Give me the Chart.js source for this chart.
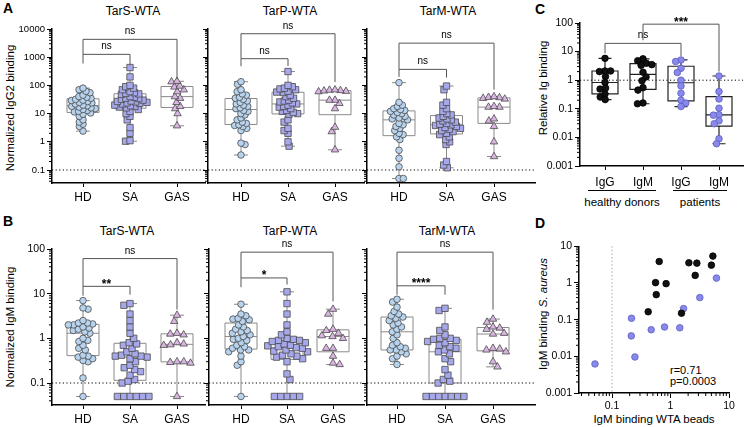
<!DOCTYPE html>
<html>
<head>
<meta charset="utf-8">
<script src="https://cdn.jsdelivr.net/npm/chart.js@4.4.1/dist/chart.umd.min.js"></script>
<style>
  body { margin: 0; width: 746px; height: 427px; position: relative; overflow: hidden; background: #fff;
         font-family: "Liberation Sans", Arial, sans-serif; color: #000; }
  canvas { position: absolute; }
  .lbl { position: absolute; white-space: nowrap; transform: translate(-50%, -50%); font-size: 12px; line-height: 14px; }
  .rot { transform: translate(-50%, -50%) rotate(-90deg); font-size: 11.5px; }
  .letter { font-weight: bold; font-size: 14px; }
  .grp { position: absolute; border-top: 1px solid #000; height: 0; }
</style>
</head>
<body>
<div class="lbl letter" style="left:8px;top:8px">A</div>
<div class="lbl letter" style="left:8px;top:221px">B</div>
<div class="lbl letter" style="left:540px;top:9px">C</div>
<div class="lbl letter" style="left:540px;top:223px">D</div>

<div class="lbl" style="left:133px;top:11px">TarS-WTA</div>
<div class="lbl" style="left:290px;top:11px">TarP-WTA</div>
<div class="lbl" style="left:448px;top:11px">TarM-WTA</div>
<div class="lbl" style="left:127px;top:231px">TarS-WTA</div>
<div class="lbl" style="left:290px;top:231px">TarP-WTA</div>
<div class="lbl" style="left:447px;top:231px">TarM-WTA</div>

<div class="lbl rot" style="left:10px;top:108px">Normalized IgG2 binding</div>
<div class="lbl rot" style="left:10px;top:327px">Normalized IgM binding</div>
<div class="lbl rot" style="left:543px;top:88px">Relative Ig binding</div>
<div class="lbl rot" style="left:543px;top:314px">IgM binding <i>S. aureus</i></div>
<div class="lbl" style="left:654px;top:419px;font-size:11.5px">IgM binding WTA beads</div>

<div class="grp" style="left:588px;top:190px;width:68px"></div>
<div class="grp" style="left:673px;top:190px;width:54px"></div>
<div class="lbl" style="left:622px;top:202px;font-size:11.5px">healthy donors</div>
<div class="lbl" style="left:700px;top:202px;font-size:11.5px">patients</div>
<div style="position:absolute;left:670px;top:365px;font-size:11px;line-height:11px">r=0.71<br>p=0.0003</div>

<script>
Chart.defaults.font.family = '"Liberation Sans", Arial, sans-serif';
Chart.defaults.color = '#000';
Chart.defaults.animation = false;

// ---------- data ----------
const groups = ['HD', 'SA', 'GAS'];
const igLabels = ['IgG', 'IgM', 'IgG', 'IgM'];
const ticksIgG2 = [0.1, 1, 10, 100, 1000, 10000];
const ticksIgM = [0.1, 1, 10, 100];
const ticksRel = [0.001, 0.01, 0.1, 1, 10, 100];
const ticksCorrX = [0.1, 1, 10];
const ticksCorrY = [0.001, 0.01, 0.1, 1, 10];
const detectionLimit = 0.1;

// A: normalized IgG2 binding
const igg2TarS_HD = [2.4, 3.5, 4.2, 5.0, 6.0, 8.0, 9.5, 10.5, 11.5, 12, 13, 14, 15, 16, 17, 18, 19, 20, 22, 24, 25, 27, 29, 30, 32, 35, 38, 40, 45, 55, 62, 70, 80];
const igg2TarS_SA = [1.05, 1.1, 2.0, 3.2, 6, 8, 10, 12, 14, 16, 17, 18, 19, 20, 22, 23, 24, 25, 26, 27, 28, 30, 32, 34, 35, 38, 40, 48, 50, 52, 55, 60, 70, 80, 90, 100, 200, 430];
const igg2TarS_GAS = [3.7, 10, 15, 18, 25, 35, 40, 60, 70, 88, 95, 135, 140];
const igg2TarP_HD = [0.34, 0.8, 0.9, 2.5, 3.0, 3.5, 3.8, 4.0, 4.5, 5.0, 6.0, 7.0, 9.0, 10, 12, 13, 15, 16, 18, 20, 22, 25, 28, 32, 35, 38, 45, 50, 60, 70, 110, 135];
const igg2TarP_SA = [0.7, 1.0, 2.0, 2.5, 3.0, 5.0, 6.0, 9.5, 10, 11, 12, 13, 15, 17, 18, 20, 22, 24, 26, 28, 30, 35, 40, 45, 56, 58, 62, 70, 75, 80, 90, 100, 310];
const igg2TarP_GAS = [0.52, 2.3, 3.3, 15, 23, 30, 30, 60, 62, 64, 66, 68, 70];
const igg2TarM_HD = [0.05, 0.05, 0.13, 0.26, 0.5, 1.2, 1.5, 1.8, 2.0, 2.5, 3.0, 3.5, 4.0, 4.5, 6.0, 6.5, 7.0, 8.0, 9.0, 10, 11, 12, 13, 14, 15, 18, 20, 25, 125];
const igg2TarM_SA = [0.12, 0.15, 0.2, 0.8, 1.0, 1.2, 1.5, 1.8, 2.0, 2.3, 2.5, 2.8, 3.0, 3.2, 3.5, 3.8, 4.0, 4.2, 4.5, 5.0, 5.5, 6.0, 6.5, 7.0, 8.0, 9.0, 10, 12, 15, 20, 25, 70, 95];
const igg2TarM_GAS = [0.3, 1.0, 3.5, 5.5, 6.5, 17, 17, 18, 33, 35, 37, 38, 40];

// B: normalized IgM binding
const igmTarS_HD = [0.05, 0.13, 0.3, 0.32, 0.35, 0.38, 0.4, 0.42, 0.55, 0.6, 0.7, 0.85, 0.9, 1.0, 1.3, 1.4, 1.5, 1.6, 1.7, 1.8, 2.0, 2.0, 2.1, 2.2, 2.2, 2.5, 4.5, 4.8, 7.0];
const igmTarS_SA = [0.05, 0.05, 0.05, 0.05, 0.05, 0.05, 0.1, 0.11, 0.12, 0.15, 0.18, 0.2, 0.22, 0.25, 0.3, 0.35, 0.38, 0.4, 0.4, 0.42, 0.45, 0.5, 0.6, 0.7, 0.75, 0.8, 1.0, 1.3, 1.8, 2.5, 3.5, 5.5, 6.0];
const igmTarS_GAS = [0.05, 0.28, 0.29, 0.3, 0.3, 0.7, 0.72, 0.75, 0.8, 1.2, 1.25, 1.3, 2.4, 3.3];
const igmTarP_HD = [0.05, 0.25, 0.3, 0.4, 0.5, 0.55, 0.55, 0.6, 0.65, 0.7, 0.8, 0.9, 0.95, 1.0, 1.1, 1.2, 1.3, 1.4, 1.5, 1.6, 1.8, 2.0, 2.4, 2.6, 2.7, 2.8, 3.2, 3.5, 5.8];
const igmTarP_SA = [0.05, 0.05, 0.05, 0.05, 0.05, 0.12, 0.16, 0.3, 0.35, 0.38, 0.4, 0.42, 0.45, 0.5, 0.52, 0.55, 0.6, 0.62, 0.65, 0.68, 0.7, 0.75, 0.8, 0.85, 0.9, 0.9, 0.95, 1.0, 1.2, 1.4, 2.0, 3.5, 6.0, 11];
const igmTarP_GAS = [0.26, 0.28, 0.4, 0.6, 0.6, 1.0, 1.1, 1.15, 1.3, 1.5, 1.6, 3.5, 4.5];
const igmTarM_HD = [0.26, 0.35, 0.4, 0.45, 0.5, 0.55, 0.55, 0.6, 0.65, 0.7, 0.8, 1.0, 1.2, 1.4, 1.6, 1.8, 2.0, 2.2, 2.5, 2.8, 3.0, 3.2, 3.5, 4.0, 5.0, 6.5, 7.5];
const igmTarM_SA = [0.05, 0.05, 0.05, 0.05, 0.05, 0.05, 0.05, 0.1, 0.11, 0.12, 0.15, 0.2, 0.3, 0.35, 0.45, 0.5, 0.55, 0.6, 0.65, 0.7, 0.8, 0.85, 0.9, 0.95, 1.0, 1.0, 1.2, 1.5, 1.8, 4.2, 4.7];
const igmTarM_GAS = [0.23, 0.3, 0.5, 0.55, 0.58, 0.6, 1.25, 1.3, 1.6, 1.7, 1.8, 2.3, 2.7];

// C: relative Ig binding
const healthyIgG = [5.8, 2.1, 2.1, 2.0, 1.34, 0.83, 0.53, 0.49, 0.33, 0.26, 0.21];
const healthyIgM = [5.6, 4.8, 3.9, 3.5, 3.3, 1.9, 1.3, 0.95, 0.55, 0.45, 0.16, 0.15];
const patientIgG = [5.1, 4.5, 2.6, 1.85, 1.0, 0.63, 0.35, 0.2, 0.158, 0.12];
const patientIgM = [1.4, 0.4, 0.22, 0.105, 0.062, 0.06, 0.038, 0.03, 0.009, 0.006];

// D: IgM on WTA beads vs IgM on S. aureus
const healthyBeads = [0.415, 0.554, 0.57, 0.64, 0.84, 1.54, 2.06, 2.64, 2.82, 5.0, 5.3];
const healthyAureus = [0.164, 1.02, 0.48, 3.85, 0.96, 0.15, 3.55, 1.61, 3.47, 3.06, 5.4];
const patientBeads = [0.051, 0.215, 0.213, 0.246, 0.467, 0.79, 1.44, 1.67, 3.17, 6.1];
const patientAureus = [0.0062, 0.109, 0.036, 0.0096, 0.053, 0.063, 0.06, 0.2, 0.4, 1.36];

// significance brackets (group indices, bar height, leg ends)
const bracketsA1 = [{ a: 1, b: 2, y: 1260, ya: 600, yb: 515, t: 'ns' }, { a: 1, b: 3, y: 4300, ya: 1260, yb: 165, t: 'ns' }];
const bracketsA2 = [{ a: 1, b: 2, y: 885, ya: 480, yb: 485, t: 'ns' }, { a: 1, b: 3, y: 6800, ya: 885, yb: 131, t: 'ns' }];
const bracketsA3 = [{ a: 1, b: 2, y: 370, ya: 200, yb: 190, t: 'ns' }, { a: 1, b: 3, y: 3150, ya: 370, yb: 71, t: 'ns' }];
const bracketsB1 = [{ a: 1, b: 2, y: 14.6, ya: 9, yb: 9.5, t: '**' }, { a: 1, b: 3, y: 61, ya: 14.6, yb: 4.4, t: 'ns' }];
const bracketsB2 = [{ a: 1, b: 2, y: 22.5, ya: 14, yb: 16, t: '*' }, { a: 1, b: 3, y: 85, ya: 22.5, yb: 6.7, t: 'ns' }];
const bracketsB3 = [{ a: 1, b: 2, y: 15, ya: 9.5, yb: 9.5, t: '****' }, { a: 1, b: 3, y: 85, ya: 15, yb: 4.4, t: 'ns' }];
const bracketsC = [{ a: 1, b: 3, y: 19.4, ya: 8.7, yb: 7.0, t: 'ns' }, { a: 2, b: 4, y: 91, ya: 25, yb: 2.0, t: '***' }];

// ---------- styles ----------
const stylesA = [
  { shape: 'circle', r: 3.3, fill: '#b7d3ee', stroke: '#4a4a4a', d: 4.3 },
  { shape: 'rect', r: 4.5, fill: '#a7a8ec', stroke: '#4a4a4a', d: 4.5 },
  { shape: 'triangle', r: 4.3, fill: '#dab5e4', stroke: '#4a4a4a', d: 5.5 }
];
const stylesB = [
  { shape: 'circle', r: 3.3, fill: '#b7d3ee', stroke: '#4a4a4a', d: 5.2 },
  { shape: 'rect', r: 4.5, fill: '#a7a8ec', stroke: '#4a4a4a', d: 6.3 },
  { shape: 'triangle', r: 4.3, fill: '#dab5e4', stroke: '#4a4a4a', d: 6.8 }
];
const healthyStyle = { shape: 'circle', r: 3.3, fill: '#111111', stroke: '#000000', d: 5.6 };
const patientStyle = { shape: 'circle', r: 3.3, fill: '#8889e8', stroke: '#5c5dc4', d: 5.6 };

// ---------- helpers ----------
function quantile(sorted, p) {
  const pos = Math.min(Math.max(p * (sorted.length + 1) - 1, 0), sorted.length - 1);
  const lo = Math.floor(pos), hi = Math.ceil(pos);
  return sorted[lo] + (sorted[hi] - sorted[lo]) * (pos - lo);
}

function logMinors(scale) {
  const out = [];
  const lo = Math.floor(Math.log10(scale.min)), hi = Math.ceil(Math.log10(scale.max));
  for (let e = lo; e < hi; e++) {
    for (let k = 2; k <= 9; k++) {
      const v = k * Math.pow(10, e);
      if (v >= scale.min && v <= scale.max) out.push(scale.getPixelForValue(v));
    }
  }
  return out;
}

// beeswarm: spread points sideways so they don't pile up
const swarmPlugin = {
  id: 'swarm',
  afterDatasetsUpdate(chart) {
    chart.data.datasets.forEach((ds, i) => {
      const els = chart.getDatasetMeta(i).data;
      const d = ds.swarmD;
      const placed = [];
      const order = els.map((e, k) => k).sort((a, b) => els[a].y - els[b].y);
      order.forEach((k, n) => {
        const e = els[k];
        const near = placed.filter(p => Math.abs(p.y - e.y) < d);
        const cands = [0];
        near.forEach(p => {
          const dx = Math.sqrt(d * d - (p.y - e.y) ** 2) + 0.01;
          cands.push(p.o + dx, p.o - dx);
        });
        cands.sort((a, b) => Math.abs(a) - Math.abs(b) || (n % 2 ? a - b : b - a));
        const o = cands.find(c => near.every(p => (p.o - c) ** 2 + (p.y - e.y) ** 2 >= d * d - 0.05));
        placed.push({ y: e.y, o });
        e.x += o;
      });
    });
  }
};

function boxPlugin(w, cap, color, lw) {
  return {
    id: 'boxes',
    beforeDatasetsDraw(chart) {
      const { ctx, scales: { x, y } } = chart;
      ctx.save();
      ctx.strokeStyle = color;
      ctx.lineWidth = lw;
      chart.data.datasets.forEach((ds, i) => {
        const v = ds.data.map(p => p.y).sort((a, b) => a - b);
        const cx = x.getPixelForValue(i + 1);
        const [mn, q1, md, q3, mx] = [v[0], quantile(v, 0.25), quantile(v, 0.5), quantile(v, 0.75), v[v.length - 1]]
          .map(val => y.getPixelForValue(val));
        ctx.beginPath();
        ctx.moveTo(cx, mx); ctx.lineTo(cx, q3);
        ctx.moveTo(cx, q1); ctx.lineTo(cx, mn);
        ctx.moveTo(cx - cap / 2, mx); ctx.lineTo(cx + cap / 2, mx);
        ctx.moveTo(cx - cap / 2, mn); ctx.lineTo(cx + cap / 2, mn);
        ctx.moveTo(cx - w / 2, md); ctx.lineTo(cx + w / 2, md);
        ctx.rect(cx - w / 2, q3, w, q1 - q3);
        ctx.stroke();
      });
      ctx.restore();
    }
  };
}

function extrasPlugin(opts) {
  return {
    id: 'extras',
    beforeDatasetsDraw(chart) {
      const { ctx, chartArea: a, scales: { x, y } } = chart;
      ctx.save();
      ctx.strokeStyle = '#000';
      ctx.lineWidth = 1;
      ctx.beginPath();
      logMinors(y).forEach(py => { ctx.moveTo(a.left - 3, py); ctx.lineTo(a.left, py); });
      if (opts.xLog) logMinors(x).forEach(px => { ctx.moveTo(px, a.bottom); ctx.lineTo(px, a.bottom + 3); });
      ctx.stroke();
      ctx.setLineDash([1.2, 2.4]);
      ctx.strokeStyle = opts.refColor || '#000';
      ctx.beginPath();
      if (opts.refY != null) {
        const py = y.getPixelForValue(opts.refY);
        ctx.moveTo(a.left, py); ctx.lineTo(a.right, py);
      }
      if (opts.refX != null) {
        const px = x.getPixelForValue(opts.refX);
        ctx.moveTo(px, a.top); ctx.lineTo(px, a.bottom);
      }
      ctx.stroke();
      ctx.restore();
    }
  };
}

function bracketPlugin(list) {
  return {
    id: 'brackets',
    afterDatasetsDraw(chart) {
      const { ctx, scales: { x, y } } = chart;
      ctx.save();
      ctx.strokeStyle = '#555';
      ctx.lineWidth = 1;
      ctx.fillStyle = '#000';
      ctx.textAlign = 'center';
      list.forEach(b => {
        const xa = x.getPixelForValue(b.a), xb = x.getPixelForValue(b.b);
        const py = y.getPixelForValue(b.y);
        ctx.beginPath();
        ctx.moveTo(xa, y.getPixelForValue(b.ya));
        ctx.lineTo(xa, py);
        ctx.lineTo(xb, py);
        ctx.lineTo(xb, y.getPixelForValue(b.yb));
        ctx.stroke();
        const star = b.t.includes('*');
        ctx.font = star ? 'bold 12px "Liberation Sans", Arial' : '10px "Liberation Sans", Arial';
        ctx.fillText(b.t, (xa + xb) / 2, star ? py + 1.5 : py - 5);
      });
      ctx.restore();
    }
  };
}

function makeCanvas(plot, yW, padTop, xH, padR) {
  const [l, r, t, b] = plot;
  const cv = document.createElement('canvas');
  cv.width = yW + (r - l) + padR;
  cv.height = padTop + (b - t) + xH;
  cv.style.width = cv.width + 'px';
  cv.style.height = cv.height + 'px';
  cv.style.left = (l - yW) + 'px';
  cv.style.top = (t - padTop) + 'px';
  document.body.appendChild(cv);
  return cv;
}

function logAxis(min, max, ticks, showLabels, fontSize, yW) {
  return {
    type: 'logarithmic', min, max,
    afterBuildTicks: s => { s.ticks = ticks.map(v => ({ value: v })); },
    afterFit: s => { s.width = yW; },
    ticks: { autoSkip: false, padding: 2, font: { size: fontSize }, callback: v => showLabels ? String(v) : '' },
    grid: { drawOnChartArea: false, drawTicks: true, tickLength: 5, color: '#000', lineWidth: 1 },
    border: { display: true, color: '#000', width: 1.5 }
  };
}

function categoryAxis(min, max, labels, xH, pad) {
  return {
    type: 'linear', min, max,
    afterBuildTicks: s => { s.ticks = labels.map((lab, i) => ({ value: i + 1 })); },
    afterFit: s => { s.height = xH; },
    ticks: { autoSkip: false, padding: pad, font: { size: 12 }, callback: v => labels[v - 1] || '' },
    grid: { drawOnChartArea: false, drawTicks: true, tickLength: 4, color: '#000', lineWidth: 1 },
    border: { display: true, color: '#000', width: 1.5 }
  };
}

function dataset(vals, gx, st) {
  return {
    data: vals.map(v => ({ x: gx, y: v })),
    pointStyle: st.shape, pointRadius: st.r, pointHoverRadius: st.r,
    pointBackgroundColor: st.fill, pointBorderColor: st.stroke, pointBorderWidth: 0.8,
    clip: false, swarmD: st.d
  };
}

function boxPanel(p) {
  const yW = 44, padTop = 30, xH = 28, padR = 6;
  const [l, r] = p.plot;
  const cv = makeCanvas(p.plot, yW, padTop, xH, padR);
  const xmin = 1 - (p.first - l) / p.step, xmax = 1 + (r - p.first) / p.step;
  new Chart(cv, {
    type: 'scatter',
    data: { datasets: p.series.map((vals, i) => dataset(vals, i + 1, p.styles[i])) },
    options: {
      responsive: false,
      layout: { padding: { top: padTop, right: padR, left: 0, bottom: 0 } },
      scales: {
        x: categoryAxis(xmin, xmax, p.labels, xH, p.labPad),
        y: logAxis(p.ymin, p.ymax, p.ticks, p.showY, p.tickFont, yW)
      },
      plugins: { legend: { display: false }, tooltip: { enabled: false } }
    },
    plugins: [swarmPlugin, extrasPlugin({ refY: p.ref }), boxPlugin(p.boxW, p.capW, p.boxColor, p.boxLw), bracketPlugin(p.brackets)]
  });
}

const panelsAB = [
  { plot: [52, 205, 29, 183], first: 83, step: 47, ymin: 0.0346, ymax: 10000, ticks: ticksIgG2, showY: true, tickFont: 9.5,
    series: [igg2TarS_HD, igg2TarS_SA, igg2TarS_GAS], brackets: bracketsA1, styles: stylesA },
  { plot: [208, 364, 29, 183], first: 241, step: 47, ymin: 0.0346, ymax: 10000, ticks: ticksIgG2, showY: false, tickFont: 9.5,
    series: [igg2TarP_HD, igg2TarP_SA, igg2TarP_GAS], brackets: bracketsA2, styles: stylesA },
  { plot: [367, 535, 29, 183], first: 399, step: 47.5, ymin: 0.0346, ymax: 10000, ticks: ticksIgG2, showY: false, tickFont: 9.5,
    series: [igg2TarM_HD, igg2TarM_SA, igg2TarM_GAS], brackets: bracketsA3, styles: stylesA },
  { plot: [52, 205, 249, 405], first: 83, step: 47, ymin: 0.0322, ymax: 100, ticks: ticksIgM, showY: true, tickFont: 10.5,
    series: [igmTarS_HD, igmTarS_SA, igmTarS_GAS], brackets: bracketsB1, styles: stylesB },
  { plot: [209, 364, 249, 405], first: 241, step: 46, ymin: 0.0322, ymax: 100, ticks: ticksIgM, showY: false, tickFont: 10.5,
    series: [igmTarP_HD, igmTarP_SA, igmTarP_GAS], brackets: bracketsB2, styles: stylesB },
  { plot: [367, 535, 249, 405], first: 397, step: 48, ymin: 0.0322, ymax: 100, ticks: ticksIgM, showY: false, tickFont: 10.5,
    series: [igmTarM_HD, igmTarM_SA, igmTarM_GAS], brackets: bracketsB3, styles: stylesB }
];
panelsAB.forEach(p => boxPanel(Object.assign(p, {
  labels: groups, ref: detectionLimit, labPad: 3,
  boxW: 32, capW: 14, boxColor: '#8a8a8a', boxLw: 1
})));

// C
boxPanel({
  plot: [580, 743, 23, 166], first: 605, step: 38, ymin: 0.001, ymax: 100, ticks: ticksRel, showY: true, tickFont: 10.5,
  series: [healthyIgG, healthyIgM, patientIgG, patientIgM], brackets: bracketsC,
  labels: igLabels, styles: [healthyStyle, healthyStyle, patientStyle, patientStyle], ref: 1, labPad: 5,
  boxW: 26, capW: 13, boxColor: '#222', boxLw: 1.2
});

// D
(function () {
  const plot = [579, 729, 246, 393];
  const yW = 44, padTop = 8, xH = 22, padR = 10;
  const cv = makeCanvas(plot, yW, padTop, xH, padR);
  const pts = (xs, ys) => xs.map((v, i) => ({ x: v, y: ys[i] }));
  const ds = (data, st) => ({
    data, pointStyle: 'circle', pointRadius: st.r, pointHoverRadius: st.r,
    pointBackgroundColor: st.fill, pointBorderColor: st.stroke, pointBorderWidth: 0.8, clip: false
  });
  const xAxis = logAxis(0.0272, 10, ticksCorrX, true, 10.5, yW);
  xAxis.afterFit = s => { s.height = xH; };
  new Chart(cv, {
    type: 'scatter',
    data: { datasets: [ds(pts(healthyBeads, healthyAureus), healthyStyle), ds(pts(patientBeads, patientAureus), patientStyle)] },
    options: {
      responsive: false,
      layout: { padding: { top: padTop, right: padR, left: 0, bottom: 0 } },
      scales: { x: xAxis, y: logAxis(0.001, 10, ticksCorrY, true, 10.5, yW) },
      plugins: { legend: { display: false }, tooltip: { enabled: false } }
    },
    plugins: [extrasPlugin({ xLog: true, refX: detectionLimit, refColor: '#999' })]
  });
})();
</script>
</body>
</html>
